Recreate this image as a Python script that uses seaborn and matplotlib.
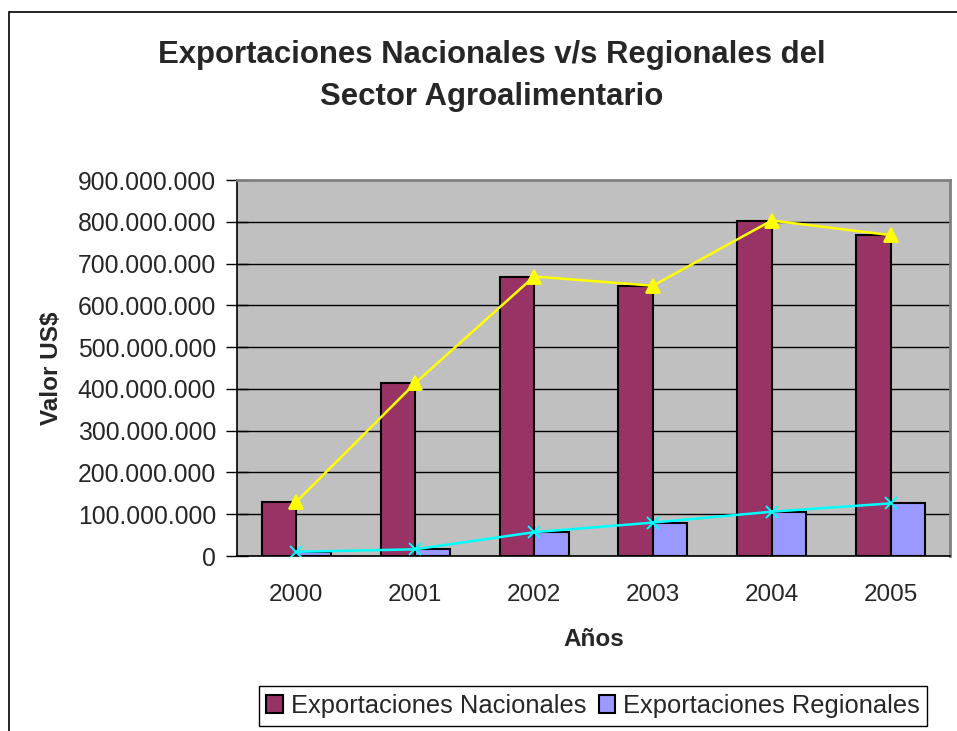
import pandas as pd
import matplotlib
matplotlib.use("Agg")
import matplotlib.pyplot as plt
import seaborn as sns
from matplotlib.ticker import FuncFormatter, FixedLocator
from matplotlib.patches import Rectangle

# ---------------- DATA ----------------
YEARS = ["2000", "2001", "2002", "2003", "2004", "2005"]
NACIONALES = [130e6, 414e6, 669e6, 647e6, 803e6, 768e6]
REGIONALES = [10e6, 16e6, 57e6, 80e6, 106e6, 126e6]

SERIES = ["Exportaciones Nacionales", "Exportaciones Regionales"]
BAR_COLORS = ["#993366", "#9999FF"]
LINE_COLORS = ["#FFFF00", "#00FFFF"]

df = pd.DataFrame({
    "Año": YEARS * 2,
    "Valor": NACIONALES + REGIONALES,
    "Serie": [SERIES[0]] * len(YEARS) + [SERIES[1]] * len(YEARS),
})

# ---------------- PLOT ----------------
sns.set_style("white")
plt.rcParams["font.family"] = ["Liberation Sans", "DejaVu Sans"]

fig = plt.figure(figsize=(9.57, 7.31), dpi=100)
ax = fig.add_axes([237 / 957, 1 - 556 / 731, (950 - 237) / 957, (556 - 180) / 731])
ax.set_facecolor("#C0C0C0")

sns.barplot(data=df, x="Año", y="Valor", hue="Serie", hue_order=SERIES,
            palette=BAR_COLORS, width=0.58, edgecolor="black", linewidth=1.5,
            saturation=1, ax=ax, zorder=2)

sns.pointplot(x=YEARS, y=NACIONALES, color=LINE_COLORS[0], markers="^",
              markersize=10, linewidth=1.8, ax=ax, zorder=3)
sns.pointplot(x=YEARS, y=REGIONALES, color=LINE_COLORS[1], markers="x",
              markersize=9, linewidth=1.8, ax=ax, zorder=3)

ax.set_xlim(-0.5, len(YEARS) - 0.5)
ax.set_ylim(0, 900e6)
ax.yaxis.set_major_locator(FixedLocator([i * 100e6 for i in range(10)]))
ax.yaxis.set_major_formatter(FuncFormatter(lambda v, p: f"{v:,.0f}".replace(",", ".")))
ax.grid(axis="y", color="black", linewidth=1, zorder=1)
ax.set_axisbelow(True)

ax.xaxis.set_minor_locator(FixedLocator([i - 0.5 for i in range(len(YEARS) + 1)]))
ax.tick_params(axis="x", which="major", length=0, pad=20, labelsize=17.5)
ax.tick_params(axis="x", which="minor", direction="inout", length=16, width=1, color="black")
ax.tick_params(axis="y", direction="inout", length=16, width=1, color="black",
               pad=7, labelsize=17.8, left=True)

for side in ["left", "bottom"]:
    ax.spines[side].set_color("black")
    ax.spines[side].set_linewidth(1.2)
for side in ["top", "right"]:
    ax.spines[side].set_visible(True)
    ax.spines[side].set_color("#808080")
    ax.spines[side].set_linewidth(2)

ax.set_xlabel("Años", fontsize=17.5, fontweight="bold", labelpad=16)
ax.set_ylabel("Valor US$", fontsize=17.5, fontweight="bold", labelpad=11)

fig.text(492 / 957, 1 - 76 / 731,
         "Exportaciones Nacionales v/s Regionales del\nSector Agroalimentario",
         ha="center", va="center", fontsize=22.4, fontweight="bold",
         linespacing=1.5, multialignment="center")

handles, labels = ax.get_legend_handles_labels()
ax.legend(handles[:2], labels[:2], loc="center",
          bbox_to_anchor=(593 / 957, 1 - 706 / 731), bbox_transform=fig.transFigure,
          ncol=2, fontsize=18.4, frameon=True, fancybox=False, edgecolor="black",
          framealpha=1, handlelength=0.65, handleheight=0.65, handletextpad=0.3,
          columnspacing=0.5, borderpad=0.3)
ax.get_legend().get_frame().set_linewidth(1)

# chart area border (left and top edges visible)
fig.patches.append(Rectangle((9 / 957, -0.1), 1.2, 1.1 - 12 / 731,
                             transform=fig.transFigure, fill=False,
                             edgecolor="black", linewidth=1.2))

fig.savefig("out.png", dpi=100)
